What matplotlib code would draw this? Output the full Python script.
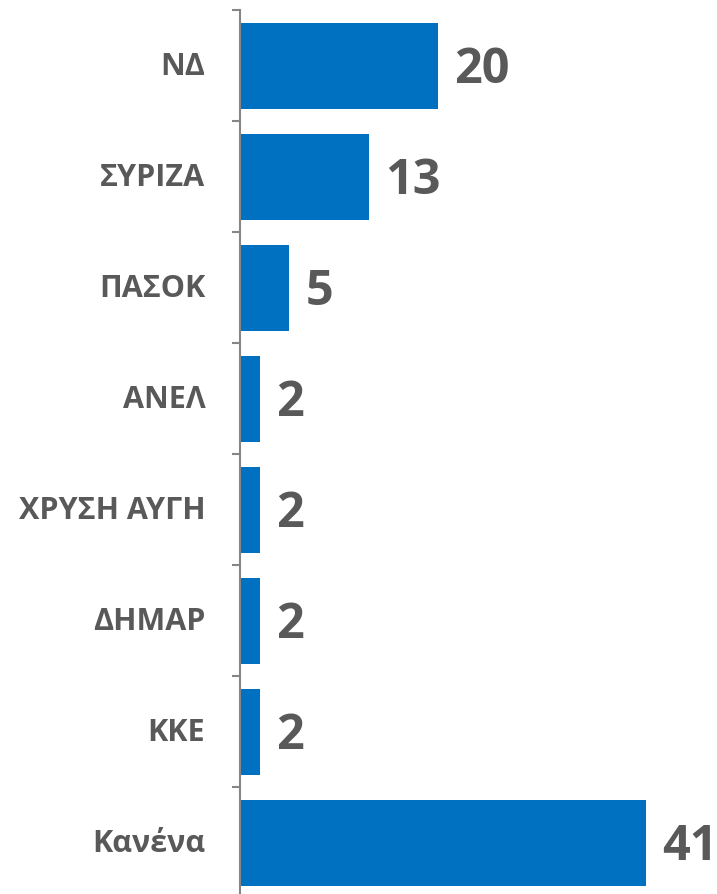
import matplotlib.pyplot as plt

parties = ['ΝΔ', 'ΣΥΡΙΖΑ', 'ΠΑΣΟΚ', 'ΑΝΕΛ', 'ΧΡΥΣΗ ΑΥΓΗ', 'ΔΗΜΑΡ', 'ΚΚΕ', 'Κανένα']
values = [20, 13, 5, 2, 2, 2, 2, 41]

plt.rcParams['font.family'] = ['Open Sans', 'DejaVu Sans']

fig = plt.figure(figsize=(7.17, 8.95), dpi=100)
# axes sits on the figure directly, bottom runs a little past the edge
ax = fig.add_axes([240 / 717, -0.0045, 1 - 240 / 717, 0.992])

pos = list(range(len(parties)))
bars = ax.barh(pos, values, height=0.775, color='#0070C0')

ax.set_ylim(len(parties) - 0.5, -0.5)
ax.set_xlim(0, 48.2)

for y, v in zip(pos, values):
    ax.annotate(str(v), (v, y), xytext=(12, -3), textcoords='offset points',
                va='center', ha='left', fontsize=35, fontweight='bold',
                color='#595959')

# category names as text, ticks at the boundaries
ax.set_yticks([p - 0.5 for p in pos] + [len(parties) - 0.5])
ax.set_yticklabels([])
ax.tick_params(axis='y', length=6, width=1.5, color='#868686', direction='out')
for y, name in zip(pos, parties):
    ax.annotate(name, (0, y), xytext=(-25, 0), textcoords='offset points',
                va='center', ha='right', fontsize=22, fontweight='bold',
                color='#595959')

ax.set_xticks([])
for s in ['top', 'right', 'bottom']:
    ax.spines[s].set_visible(False)
ax.spines['left'].set_color('#868686')
ax.spines['left'].set_linewidth(1.5)

fig.savefig('out.png', dpi=100)
